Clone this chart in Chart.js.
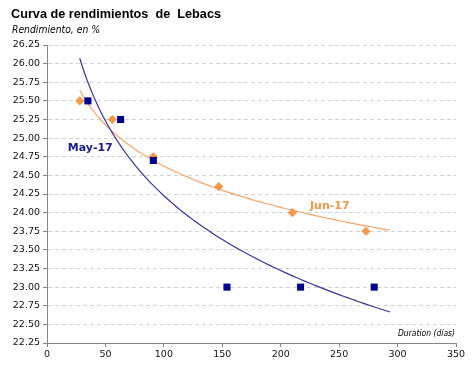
<!DOCTYPE html>
<html>
<head>
<meta charset="utf-8">
<script src="https://cdn.jsdelivr.net/npm/chart.js@4"></script>
<style>
  html, body { margin: 0; padding: 0; background: #fff; }
  #wrap { width: 474px; height: 366px; }
</style>
</head>
<body>
<div id="wrap"><canvas id="lebacs-chart"></canvas></div>
<script>
// duration (days) and yield (%)
const mayDuration = [35, 63, 91, 154, 217, 280];
const mayYield = [25.5, 25.25, 24.7, 23.0, 23.0, 23.0];
const junDuration = [28, 56, 91, 147, 210, 273];
const junYield = [25.5, 25.25, 24.75, 24.35, 24.0, 23.75];

const yTicks = [22.25, 22.5, 22.75, 23, 23.25, 23.5, 23.75, 24, 24.25, 24.5, 24.75, 25, 25.25, 25.5, 25.75, 26, 26.25];
const xTicks = [0, 50, 100, 150, 200, 250, 300, 350];

// range of the log trend lines
const trendFrom = 28;
const trendTo = 293.5;

const fontFamily = "'DejaVu Sans', sans-serif";

function toPoints(xs, ys) {
  return xs.map((x, i) => ({ x: x, y: ys[i] }));
}

// least squares fit of y = a + b*ln(x), like the spreadsheet trendline
function logTrend(xs, ys) {
  const lx = xs.map((x) => Math.log(x));
  const n = xs.length;
  const mx = lx.reduce((s, v) => s + v, 0) / n;
  const my = ys.reduce((s, v) => s + v, 0) / n;
  let sxy = 0, sxx = 0;
  lx.forEach((v, i) => {
    sxy += (v - mx) * (ys[i] - my);
    sxx += (v - mx) * (v - mx);
  });
  const b = sxy / sxx;
  const a = my - b * mx;
  const pts = [];
  const steps = 80;
  for (let i = 0; i <= steps; i++) {
    const x = trendFrom + (trendTo - trendFrom) * i / steps;
    pts.push({ x: x, y: a + b * Math.log(x) });
  }
  return pts;
}

const seriesLabels = [
  { text: "May-17", x: 37, y: 24.87, color: "#1a1a8c" },
  { text: "Jun-17", x: 242, y: 24.09, color: "#f79646" },
];

const textPlugin = {
  id: "texts",
  afterDraw(chart) {
    const ctx = chart.ctx;
    const xs = chart.scales.x;
    const ys = chart.scales.y;
    ctx.save();
    ctx.textBaseline = "middle";
    ctx.fillStyle = "#000";
    ctx.textAlign = "left";
    ctx.font = "bold 13px 'Liberation Sans', sans-serif";
    ctx.fillText("Curva de rendimientos  de  Lebacs", 11, 14, 210);
    ctx.font = "italic 10px " + fontFamily;
    ctx.fillText("Rendimiento, en %", 12, 30, 88);
    ctx.textAlign = "right";
    ctx.font = "italic 8.5px " + fontFamily;
    ctx.fillText("Duration (días)", 455, 334, 57);
    ctx.textAlign = "center";
    ctx.font = "bold 11px " + fontFamily;
    seriesLabels.forEach((l) => {
      ctx.fillStyle = l.color;
      ctx.fillText(l.text, xs.getPixelForValue(l.x), ys.getPixelForValue(l.y));
    });
    ctx.restore();
  },
};

new Chart(document.getElementById("lebacs-chart"), {
  type: "scatter",
  data: {
    datasets: [
      {
        label: "May-17 trend",
        data: logTrend(mayDuration, mayYield),
        showLine: true,
        borderColor: "#3535a8",
        borderWidth: 1.2,
        pointRadius: 0,
        tension: 0,
        order: 2,
      },
      {
        label: "Jun-17 trend",
        data: logTrend(junDuration, junYield),
        showLine: true,
        borderColor: "#f9a56a",
        borderWidth: 1.2,
        pointRadius: 0,
        tension: 0,
        order: 3,
      },
      {
        label: "Jun-17",
        data: toPoints(junDuration, junYield),
        pointStyle: "rectRot",
        pointRadius: 4.6,
        backgroundColor: "#f79646",
        borderColor: "#f79646",
        borderWidth: 0,
        order: 1,
      },
      {
        label: "May-17",
        data: toPoints(mayDuration, mayYield),
        pointStyle: "rect",
        pointRadius: 5,
        backgroundColor: "#000090",
        borderColor: "#000090",
        borderWidth: 0,
        order: 0,
      },
    ],
  },
  options: {
    responsive: true,
    maintainAspectRatio: false,
    animation: false,
    layout: { padding: { top: 45, right: 18, left: 0, bottom: 0 } },
    plugins: {
      legend: { display: false },
      tooltip: { enabled: false },
    },
    scales: {
      x: {
        type: "linear",
        min: 0,
        max: 350,
        afterBuildTicks(axis) {
          axis.ticks = xTicks.map((v) => ({ value: v }));
        },
        afterFit(axis) {
          axis.height = 23;
        },
        grid: { drawOnChartArea: false, drawTicks: true, tickLength: 4, color: "#868686" },
        border: { color: "#868686", width: 1 },
        ticks: { color: "#111", font: { family: fontFamily, size: 9.5 }, padding: 2, maxRotation: 0 },
      },
      y: {
        type: "linear",
        min: 22.25,
        max: 26.25,
        afterBuildTicks(axis) {
          axis.ticks = yTicks.map((v) => ({ value: v }));
        },
        afterFit(axis) {
          axis.width = 47;
        },
        grid: {
          color: "#d4d4d4",
          tickColor: "#868686",
          tickLength: 4,
          tickBorderDash: [],
        },
        border: { color: "#868686", width: 1, dash: [4, 3] },
        ticks: {
          color: "#111",
          font: { family: fontFamily, size: 9.5 },
          padding: 3,
          callback: (v) => v.toFixed(2),
        },
      },
    },
  },
  plugins: [textPlugin],
});
</script>
</body>
</html>
